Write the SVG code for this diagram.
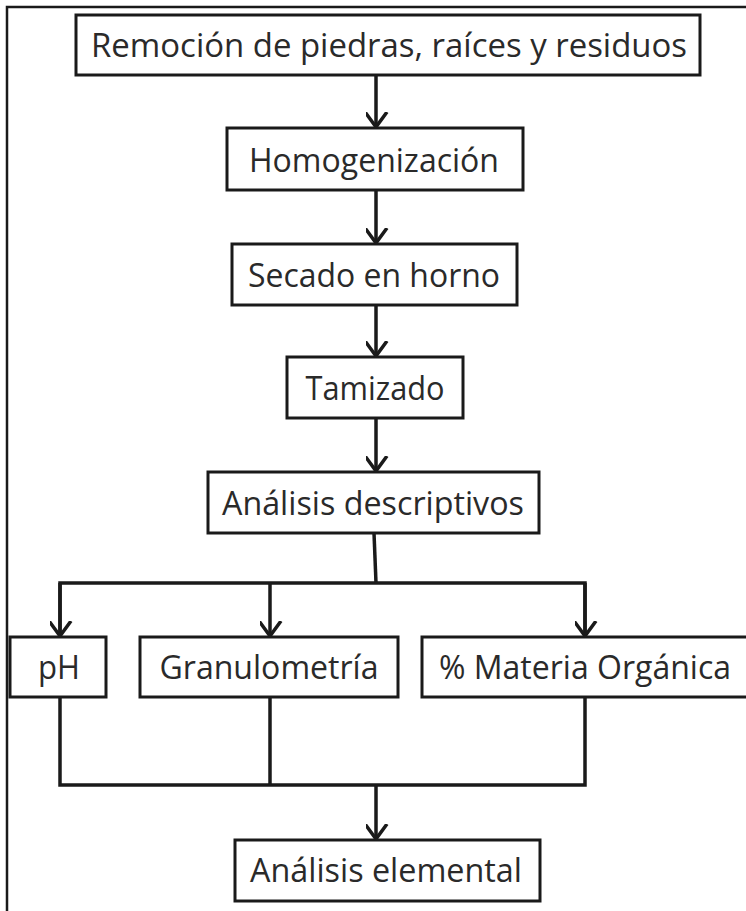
<svg xmlns="http://www.w3.org/2000/svg" width="746" height="911" viewBox="0 0 746 911">
<style>
.box{fill:#fff;stroke:#1a1a1a;stroke-width:3}
.lbl{font-family:"Open Sans","Liberation Sans",sans-serif;font-size:32px;fill:#2a2a2a;text-anchor:middle}
.con{fill:none;stroke:#1a1a1a;stroke-width:3.5}
</style>
<defs>
<marker id="ah" markerUnits="userSpaceOnUse" markerWidth="30" markerHeight="30" viewBox="-15 -20 30 30" refX="0" refY="0" orient="auto">
<path d="M-15,-11 L0,0 L-15,11" fill="none" stroke="#1a1a1a" stroke-width="3.5"/>
</marker>
</defs>
<rect x="7" y="7" width="800" height="1000" fill="#fff" stroke="#1a1a1a" stroke-width="2.5"/>
<g id="connectors">
<line class="con" x1="376" y1="75" x2="376" y2="127" marker-end="url(#ah)"/>
<line class="con" x1="376" y1="190" x2="376" y2="243" marker-end="url(#ah)"/>
<line class="con" x1="376" y1="305" x2="376" y2="356" marker-end="url(#ah)"/>
<line class="con" x1="376" y1="418" x2="376" y2="471" marker-end="url(#ah)"/>
<line class="con" x1="374" y1="533" x2="376" y2="583"/>
<polyline class="con" points="60,636 60,583 585,583 585,636"/>
<line class="con" x1="60" y1="583" x2="60" y2="636" marker-end="url(#ah)"/>
<line class="con" x1="270" y1="583" x2="270" y2="636" marker-end="url(#ah)"/>
<line class="con" x1="585" y1="583" x2="585" y2="636" marker-end="url(#ah)"/>
<polyline class="con" points="60,697 60,785 585,785 585,697"/>
<line class="con" x1="270" y1="697" x2="270" y2="785"/>
<line class="con" x1="376" y1="785" x2="376" y2="839" marker-end="url(#ah)"/>
</g>
<g id="n1"><rect class="box" x="76" y="15" width="624" height="60"/><text class="lbl" x="389" y="57" textLength="596" lengthAdjust="spacingAndGlyphs">Remoción de piedras, raíces y residuos</text></g>
<g id="n2"><rect class="box" x="227" y="128" width="296" height="62"/><text class="lbl" x="374" y="172" textLength="250" lengthAdjust="spacingAndGlyphs">Homogenización</text></g>
<g id="n3"><rect class="box" x="232" y="244" width="285" height="61"/><text class="lbl" x="374" y="287" textLength="252" lengthAdjust="spacingAndGlyphs">Secado en horno</text></g>
<g id="n4"><rect class="box" x="287" y="357" width="176" height="61"/><text class="lbl" x="375" y="400" textLength="139" lengthAdjust="spacingAndGlyphs">Tamizado</text></g>
<g id="n5"><rect class="box" x="208" y="472" width="331" height="61"/><text class="lbl" x="373" y="515" textLength="302" lengthAdjust="spacingAndGlyphs">Análisis descriptivos</text></g>
<g id="n6"><rect class="box" x="10" y="637" width="96" height="60"/><text class="lbl" x="59" y="679" textLength="42" lengthAdjust="spacingAndGlyphs">pH</text></g>
<g id="n7"><rect class="box" x="140" y="637" width="258" height="60"/><text class="lbl" x="269" y="679" textLength="219" lengthAdjust="spacingAndGlyphs">Granulometría</text></g>
<g id="n8"><rect class="box" x="422" y="637" width="330" height="60"/><text class="lbl" x="585" y="679" textLength="292" lengthAdjust="spacingAndGlyphs">% Materia Orgánica</text></g>
<g id="n9"><rect class="box" x="235" y="840" width="305" height="61"/><text class="lbl" x="386" y="882" textLength="272" lengthAdjust="spacingAndGlyphs">Análisis elemental</text></g>
</svg>
